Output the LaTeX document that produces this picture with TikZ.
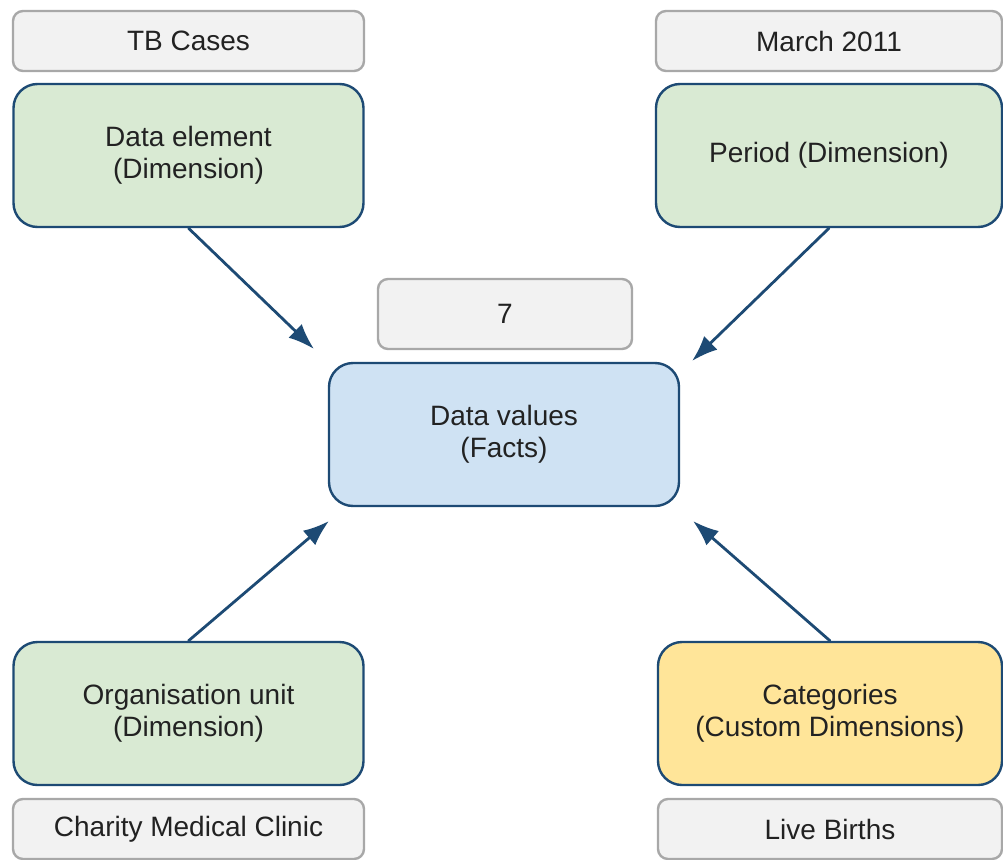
\documentclass[tikz,border=0pt]{standalone}
\usepackage{fontspec}
\setmainfont{Liberation Sans}
\usetikzlibrary{arrows.meta}

\definecolor{edgeblue}{HTML}{1D4A74}
\definecolor{greenfill}{HTML}{D9EAD3}
\definecolor{bluefill}{HTML}{CFE2F3}
\definecolor{yellowfill}{HTML}{FFE599}
\definecolor{labelfill}{HTML}{F2F2F2}
\definecolor{labeledge}{HTML}{A8A8A8}
\definecolor{textgray}{HTML}{222222}

\tikzset{
  dimbox/.style={draw=edgeblue, line width=2.4pt, rounded corners=24pt,
    minimum width=350pt, minimum height=143pt, align=center,
    text=textgray, font=\fontsize{28}{32}\selectfont},
  valbox/.style={draw=labeledge, fill=labelfill, line width=2.4pt, rounded corners=10pt,
    minimum height=60pt, text=textgray, font=\fontsize{28}{32}\selectfont},
  link/.style={draw=edgeblue, line width=2.8pt, -{Latex[length=26pt,width=19pt]}}
}

\begin{document}
\begin{tikzpicture}[line cap=round,line join=round,x=1pt,y=-1pt]
  \clip (0,0) rectangle (1003,859);
  \fill[white] (0,0) rectangle (1003,859);

  % dimensions round the facts
  \node[dimbox, fill=greenfill] (de) at (188.5,155.5) {Data element\\(Dimension)};
  \node[dimbox, fill=greenfill, minimum width=346pt] (pe) at (829,155.5) {Period (Dimension)};
  \node[dimbox, fill=bluefill] (dv) at (504,434.5) {Data values\\(Facts)};
  \node[dimbox, fill=greenfill] (ou) at (188.5,713.5) {Organisation unit\\(Dimension)};
  \node[dimbox, fill=yellowfill, minimum width=344pt] (ca) at (830,713.5) {Categories\\(Custom Dimensions)};

  % example values
  \foreach \n/\x/\y/\w/\h/\t in {tb/188.5/41/351/60/TB Cases, mar/829/41/346/60/March 2011,
                                 seven/505/314/254/70/7,
                                 cmc/188.5/829/351/60/Charity Medical Clinic, lb/830/829/344/60/Live Births}{
    \node[valbox, minimum width=\w pt, minimum height=\h pt] (\n) at (\x,\y) {\t};
  }

  \coordinate (tipde) at (314,349);
  \coordinate (tippe) at (692,361);
  \coordinate (tipou) at (329,521);
  \coordinate (tipca) at (693,521);

  \draw[link] (de.south) -- (tipde);
  \draw[link] (pe.south) -- (tippe);
  \draw[link] (ou.north) -- (tipou);
  \draw[link] (ca.north) -- (tipca);
\end{tikzpicture}
\end{document}
